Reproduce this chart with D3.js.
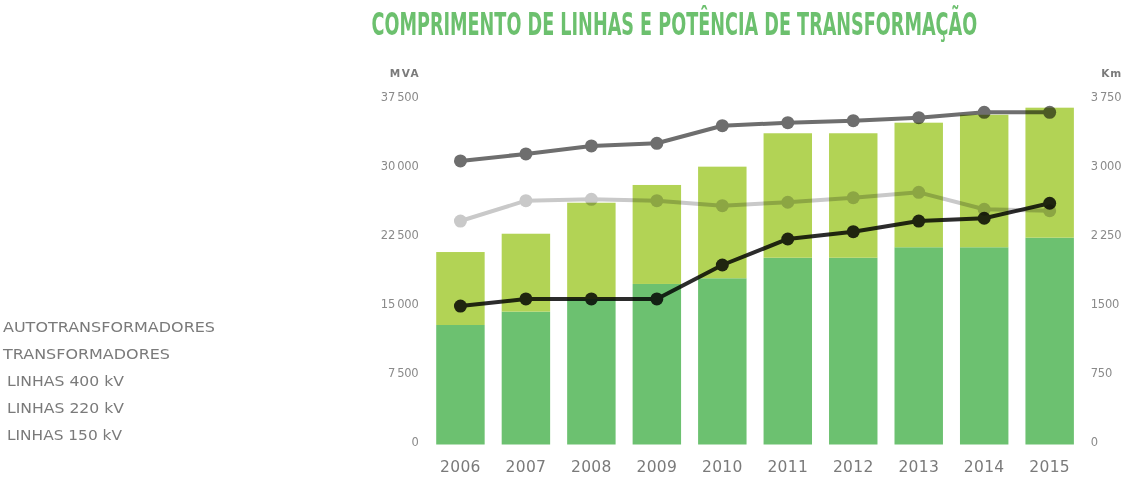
<!DOCTYPE html>
<html><head><meta charset="utf-8">
<script src="https://cdn.jsdelivr.net/npm/d3@7"></script>
<style>
html,body{margin:0;padding:0;background:#fff;}
svg{display:block;}
</style></head>
<body>
<svg id="c" width="1134" height="478"></svg>
<script>
const years = ["2006","2007","2008","2009","2010","2011","2012","2013","2014","2015"];
const transformadores = [12990, 14440, 15820, 17450, 18070, 20300, 20300, 21440, 21440, 22480];
const autotransformadores = [7930, 8470, 10460, 10760, 12130, 13530, 13530, 13540, 14400, 14130];
const linhas400 = [1505, 1582, 1582, 1582, 1951, 2234, 2313, 2429, 2459, 2622];
const linhas220 = [3082, 3158, 3245, 3274, 3465, 3498, 3520, 3552, 3611, 3611];
const linhas150 = [2429, 2650, 2665, 2650, 2596, 2633, 2683, 2741, 2557, 2541];
const leftTickValues = [0, 7500, 15000, 22500, 30000, 37500];
const leftTickLabels = ["0", "7\u2009500", "15\u2009000", "22\u2009500", "30\u2009000", "37\u2009500"];
const rightTickValues = [0, 750, 1500, 2250, 3000, 3750];
const rightTickLabels = ["0", "750", "1500", "2\u2009250", "3\u2009000", "3\u2009750"];
const legendLabels = ["AUTOTRANSFORMADORES", "TRANSFORMADORES", "LINHAS 400 kV", "LINHAS 220 kV", "LINHAS 150 kV"];
const title = "COMPRIMENTO DE LINHAS E POTÊNCIA DE TRANSFORMAÇÃO";

const svg = d3.select("#c");
const font = "'DejaVu Sans', 'Open Sans', sans-serif";

const x = d3.scaleBand().domain(years).range([427.7, 1082.4]).paddingInner(0.26).paddingOuter(0.13);
const yL = d3.scaleLinear().domain([0, 37500]).range([444.5, 99.5]);
const yR = d3.scaleLinear().domain([0, 3750]).range([444.5, 99.5]);

// title: condensed look, fitted to width, stretched vertically to the cap height
const tg = svg.append("g");
const tt = tg.append("text").attr("x", 0).attr("y", 0)
  .attr("font-family", "'DejaVu Sans Condensed', 'DejaVu Sans', sans-serif")
  .attr("font-weight", "bold").attr("font-size", 20)
  .attr("fill", "#6cc06e")
  .text(title);
const targetW = 606;
const w = tt.node().getComputedTextLength();
const fs = 20 * targetW / w;
tt.attr("font-size", fs);
const sy = 23.3 / (0.729 * fs);
tg.attr("transform", `translate(371.5,34.5) scale(1,${sy})`);

// bars
const bars = svg.append("g");
years.forEach((yr, i) => {
  const t = transformadores[i], a = autotransformadores[i];
  bars.append("rect").attr("x", x(yr)).attr("width", x.bandwidth())
    .attr("y", yL(t)).attr("height", yL(0) - yL(t)).attr("fill", "#6cc170");
  bars.append("rect").attr("x", x(yr)).attr("width", x.bandwidth())
    .attr("y", yL(t + a)).attr("height", yL(t) - yL(t + a)).attr("fill", "#b2d355");
});

// lines
function drawLine(vals, color) {
  const g = svg.append("g").style("mix-blend-mode", "multiply");
  const line = d3.line().x((d, i) => x(years[i]) + x.bandwidth() / 2).y(d => yR(d));
  g.append("path").datum(vals).attr("d", line).attr("fill", "none")
    .attr("stroke", color).attr("stroke-width", 4).attr("stroke-linejoin", "round");
  g.selectAll("circle").data(vals).join("circle")
    .attr("cx", (d, i) => x(years[i]) + x.bandwidth() / 2)
    .attr("cy", d => yR(d)).attr("r", 6.5).attr("fill", color);
}
drawLine(linhas150, "#c9c9c9");
drawLine(linhas220, "#6e6e6e");
drawLine(linhas400, "#2c2c2c");

// left axis
const axL = svg.append("g");
leftTickValues.forEach((v, i) => {
  axL.append("text").attr("x", 418.5).attr("y", yL(v) - 2.5)
    .attr("dy", "0.35em").attr("text-anchor", "end")
    .attr("font-family", font).attr("font-size", 11.5).attr("letter-spacing", -0.2)
    .attr("fill", "#8a8a8a").text(leftTickLabels[i]);
});
axL.append("text").attr("x", 405).attr("y", 77.3).attr("text-anchor", "middle")
  .attr("font-family", font).attr("font-weight", "bold").attr("font-size", 10.5)
  .attr("letter-spacing", 1.5).attr("fill", "#7a7a7a").text("MVA");

// right axis
const axR = svg.append("g");
rightTickValues.forEach((v, i) => {
  axR.append("text").attr("x", 1090.7).attr("y", yR(v) - 2.5)
    .attr("dy", "0.35em").attr("text-anchor", "start")
    .attr("font-family", font).attr("font-size", 11.5).attr("letter-spacing", -0.2)
    .attr("fill", "#8a8a8a").text(rightTickLabels[i]);
});
axR.append("text").attr("x", 1111.7).attr("y", 77.3).attr("text-anchor", "middle")
  .attr("font-family", font).attr("font-weight", "bold").attr("font-size", 10.5)
  .attr("letter-spacing", 1).attr("fill", "#7a7a7a").text("Km");

// x axis
const axB = svg.append("g");
years.forEach(yr => {
  axB.append("text").attr("x", x(yr) + x.bandwidth() / 2).attr("y", 471.7)
    .attr("text-anchor", "middle").attr("font-family", font).attr("font-size", 15.5)
    .attr("letter-spacing", 0.3).attr("fill", "#7a7a7a").text(yr);
});

// legend (text only)
const legX = [3, 3, 7, 7, 7];
const legW = [212, 167, 117, 117, 115];
legendLabels.forEach((t, i) => {
  svg.append("text").attr("x", legX[i]).attr("y", 332.3 + i * 27)
    .attr("font-family", font).attr("font-size", 14)
    .attr("fill", "#7a7a7a")
    .attr("textLength", legW[i]).attr("lengthAdjust", "spacingAndGlyphs")
    .text(t);
});
</script>
</body></html>
